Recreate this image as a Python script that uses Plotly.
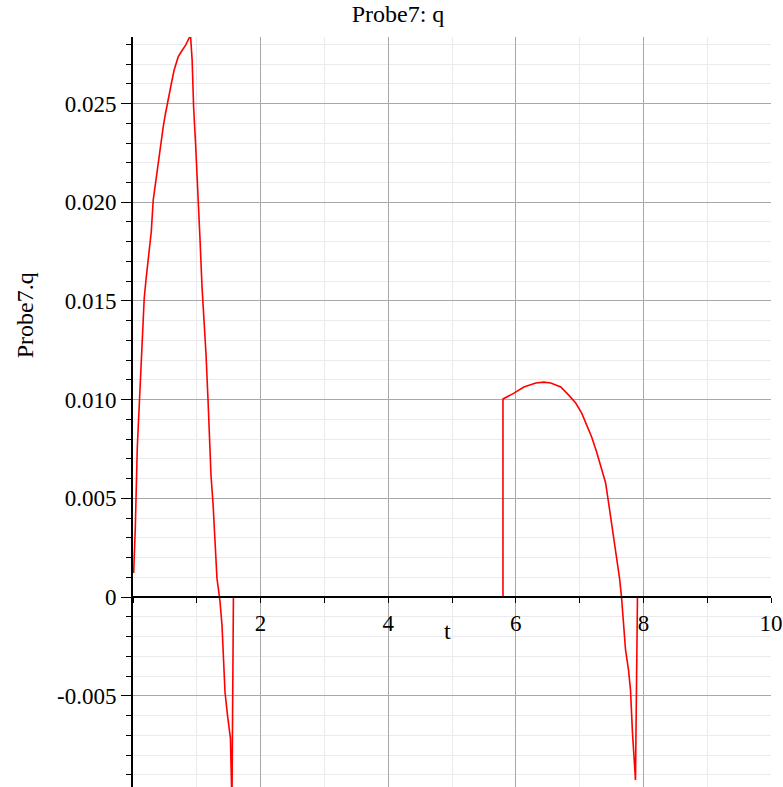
import plotly.graph_objects as go

# Probe7 response q(t): first pulse, rest interval, second pulse, rest
t_pulse1 = [0.01, 0.036, 0.067, 0.091, 0.114, 0.145, 0.176, 0.208, 0.247, 0.286,
            0.317, 0.348, 0.380, 0.411, 0.442, 0.473, 0.505, 0.536, 0.567, 0.606,
            0.645, 0.676, 0.708, 0.754, 0.825, 0.879, 0.903,
            0.927, 0.950, 0.981, 1.012, 1.051, 1.082, 1.114, 1.145, 1.176, 1.199,
            1.223, 1.254, 1.285, 1.316, 1.363, 1.395, 1.418, 1.442, 1.481, 1.527,
            1.551, 1.566, 1.574]
q_pulse1 = [0.00122, 0.00350, 0.00755, 0.00922, 0.01099, 0.01251, 0.01515, 0.01621,
            0.01733, 0.01849, 0.02011, 0.02087, 0.02153, 0.02229, 0.02315, 0.02381,
            0.02442, 0.02497, 0.02558, 0.02609, 0.02670, 0.02710, 0.02736, 0.02761,
            0.02796, 0.02832, 0.02837,
            0.02720, 0.02482, 0.02295, 0.02107, 0.01808, 0.01570, 0.01398, 0.01226,
            0.00998, 0.00760, 0.00613, 0.00476, 0.00289, 0.00096, -0.00020, -0.00142,
            -0.00309, -0.00481, -0.00598, -0.00714, -0.01050, -0.00486, 0.0]

t_rest1 = [1.574, 5.799]
q_rest1 = [0.0, 0.0]

t_pulse2 = [5.799, 5.799, 5.971, 6.127, 6.314, 6.439, 6.548, 6.705, 6.830, 6.939,
            7.033, 7.095, 7.189, 7.267, 7.345, 7.408, 7.455, 7.501, 7.579, 7.626,
            7.657, 7.720, 7.767, 7.798, 7.829, 7.853, 7.876, 7.892, 7.907]
q_pulse2 = [0.0, 0.01003, 0.01033, 0.01064, 0.01084, 0.01089, 0.01084, 0.01064,
            0.01023, 0.00983, 0.00932, 0.00887, 0.00811, 0.00735, 0.00643, 0.00578,
            0.00476, 0.00375, 0.00203, 0.00096, 0.0, -0.00268, -0.00370, -0.00471,
            -0.00689, -0.00811, -0.00927, -0.00446, 0.0]

t_rest2 = [7.907, 10.0]
q_rest2 = [0.0, 0.0]

t_all = t_pulse1 + t_rest1[1:] + t_pulse2[1:] + t_rest2[1:]
q_all = q_pulse1 + q_rest1[1:] + q_pulse2[1:] + q_rest2[1:]

y_ticks = [-0.005, 0.0, 0.005, 0.010, 0.015, 0.020, 0.025]
y_ticktext = ["-0.005", "0", "0.005", "0.010", "0.015", "0.020", "0.025"]
x_ticks = [2, 4, 6, 8, 10]

y_range = [-0.00962, 0.02837]
x_range = [0, 10]

FONT = "Liberation Serif"
MAJOR_GRID = "#a8a8a8"
MINOR_GRID = "#ebebef"

fig = go.Figure()
fig.add_trace(go.Scatter(x=t_all, y=q_all, mode="lines",
                         line=dict(color="#ff0000", width=1.6),
                         showlegend=False, hoverinfo="skip"))

# x axis drawn through q = 0
x_axis_pos = (0 - y_range[0]) / (y_range[1] - y_range[0])

fig.update_layout(
    width=783, height=787,
    margin=dict(l=133, r=10, t=37, b=0),
    paper_bgcolor="white", plot_bgcolor="white",
    title=dict(text="Probe7: q", x=398 / 783, xanchor="center",
               y=1 - 14 / 787, yanchor="middle", yref="container",
               font=dict(family=FONT, size=24, color="black")),
    xaxis=dict(
        range=x_range, anchor="free", position=x_axis_pos,
        tickvals=x_ticks, ticks="outside", ticklen=5, tickwidth=1, tickcolor="black",
        ticklabeloverflow="allow",
        showline=True, linecolor="black", linewidth=2,
        showgrid=True, gridcolor=MAJOR_GRID, gridwidth=1,
        zeroline=False,
        tickfont=dict(family=FONT, size=23, color="black"),
        minor=dict(dtick=1, tick0=0, ticks="outside", ticklen=5, tickcolor="black",
                   showgrid=True, gridcolor=MINOR_GRID, gridwidth=1),
    ),
    yaxis=dict(
        range=y_range, tickvals=y_ticks, ticktext=y_ticktext,
        ticks="outside", ticklen=10, tickwidth=1, tickcolor="black",
        showline=True, linecolor="black", linewidth=2,
        showgrid=True, gridcolor=MAJOR_GRID, gridwidth=1,
        zeroline=False,
        tickfont=dict(family=FONT, size=23, color="black"),
        minor=dict(dtick=0.001, tick0=0, ticks="outside", ticklen=5, tickcolor="black",
                   showgrid=True, gridcolor=MINOR_GRID, gridwidth=1),
    ),
    annotations=[
        # axis titles
        dict(text="t", x=4.93, y=0, xref="x", yref="y", yshift=-34,
             showarrow=False, xanchor="center", yanchor="middle",
             font=dict(family=FONT, size=24, color="black")),
        dict(text="Probe7.q", x=(25 - 133) / 640, y=(787 - 315) / 750,
             xref="paper", yref="paper", textangle=-90,
             showarrow=False, xanchor="center", yanchor="middle",
             font=dict(family=FONT, size=24, color="black")),
    ],
)

fig.write_html("out.html")
